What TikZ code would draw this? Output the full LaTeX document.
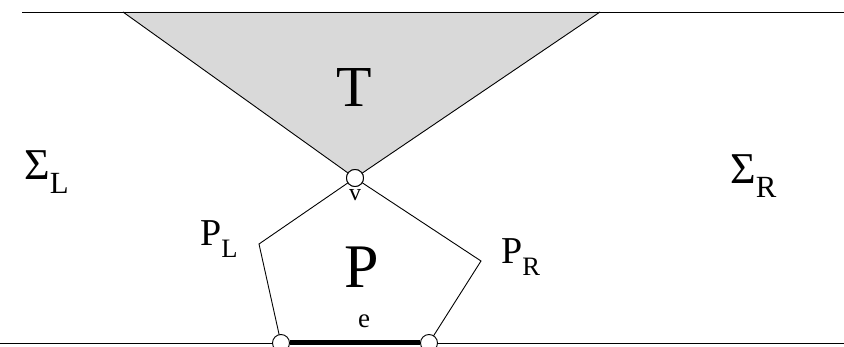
\documentclass[tikz,border=0pt]{standalone}
\usepackage{fontspec}
\setmainfont{Liberation Serif}
\newcommand\lowsub[1]{\raisebox{-0.3em}{\scalebox{0.7}{#1}}}
\definecolor{tfill}{gray}{0.85}
\begin{document}
\begin{tikzpicture}[x=1pt,y=-1pt,
  edge/.style={line width=0.9pt},
  vtx/.style={circle,draw,line width=0.9pt,fill=white,minimum size=17pt,inner sep=0pt},
  lbl/.style={inner sep=0pt}]
\useasboundingbox (0,0) rectangle (844,347);
\coordinate (topL) at (22,12);
\coordinate (topR) at (844,12);
\coordinate (botL) at (0,343);
\coordinate (botR) at (844,343);
\coordinate (tl) at (123,12);
\coordinate (tr) at (600,12);
\coordinate (pl) at (259,244);
\coordinate (pr) at (481,261);
\fill[tfill] (tl) -- (tr) -- (355,178) -- cycle;
\draw[edge] (topL) -- (topR);
\draw[edge] (botL) -- (botR);
\node[vtx] (v) at (355,178) {};
\draw[edge] (tl) -- (v.center) -- (tr);
\draw[edge] (v.center) -- (pl) -- (281,343);
\draw[edge] (v.center) -- (pr) -- (429,343);
\node[vtx] (v) at (355,178) {};
\node[vtx] (bl) at (281,343) {};
\node[vtx] (br) at (429,343) {};
\draw[line width=5pt] (bl) -- (br);
\node[lbl,anchor=base] (T) at (354,107) {\fontsize{58}{58}\selectfont T};
\node[lbl,anchor=base west] (SL) at (24,180) {\fontsize{44}{44}\selectfont Σ\lowsub{L}};
\node[lbl,anchor=base west] (SR) at (730,184) {\fontsize{44}{44}\selectfont Σ\lowsub{R}};
\node[lbl,anchor=base west] (PL) at (200,246) {\fontsize{38}{38}\selectfont P\lowsub{L}};
\node[lbl,anchor=base west] (PR) at (501,264) {\fontsize{38}{38}\selectfont P\lowsub{R}};
\node[lbl,anchor=base west] (P) at (344,288) {\fontsize{62}{62}\selectfont P};
\node[lbl,anchor=base] (vl) at (355,201) {\fontsize{24}{24}\selectfont v};
\node[lbl,anchor=base] (el) at (364,328) {\fontsize{27}{27}\selectfont e};
\end{tikzpicture}
\end{document}
